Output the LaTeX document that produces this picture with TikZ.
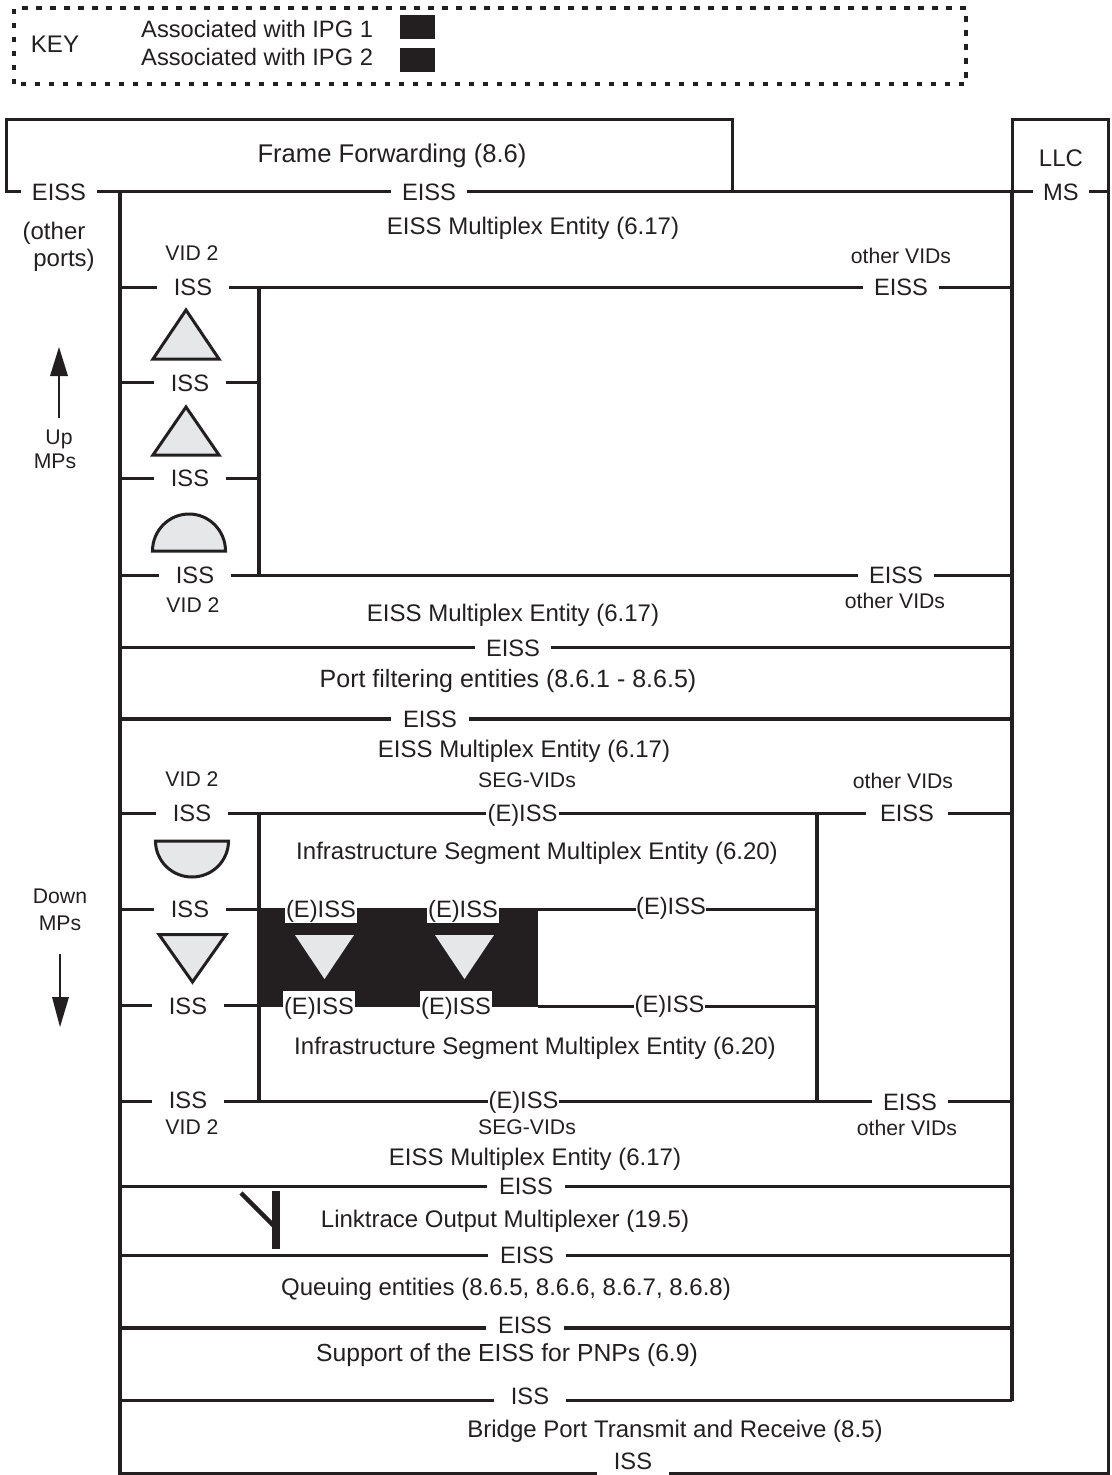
\documentclass[tikz,border=0pt]{standalone}
\usepackage{fontspec}
\setmainfont{Liberation Sans}
\definecolor{ink}{HTML}{231F20}
\definecolor{pale}{HTML}{E6E7E8}
\tikzset{
  lbl/.style={text=ink,font=\fontsize{23.7}{26}\selectfont,inner ysep=0pt,text height=17pt,text depth=0pt,inner xsep=1pt},
  isslbl/.style={lbl,inner xsep=17pt},
  eisslbl/.style={lbl,inner xsep=11pt},
  elbl/.style={lbl,inner xsep=0pt},
  small/.style={text=ink,font=\fontsize{21.2}{24}\selectfont,inner sep=0pt,text height=15.2pt,text depth=0pt},
  body/.style={text=ink,font=\fontsize{24}{26}\selectfont,inner sep=0pt,text height=17.2pt,text depth=0pt},
  ln/.style={draw=ink,line width=3pt},
  thk/.style={draw=ink,line width=3.8pt},
  sym/.style={draw=ink,fill=pale,line width=3pt,line join=miter},
  solidk/.style={fill=ink,draw=none},
  keybox/.style={draw=ink,line width=3.5pt,dash pattern=on 5.5pt off 8.5pt},
  thinar/.style={draw=ink,line width=1.6pt},
}
\begin{document}
\begin{tikzpicture}[x=1pt,y=-1pt]
\useasboundingbox (0,0) rectangle (1111,1475);
\coordinate (L) at (120,0);
\coordinate (R) at (1012,0);
\coordinate (M) at (259,0);
\coordinate (N) at (817,0);
\coordinate (O) at (1108,0);
% Key
\draw[keybox] (14,84) -- (14,8) -- (966,8) -- (966,84) -- cycle;
\node[body,anchor=center] (keyt) at (55,44) {KEY};
\node[body,anchor=west,font=\fontsize{23.7}{26}\selectfont] (k1) at (141,29) {Associated with IPG 1};
\node[body,anchor=west,font=\fontsize{23.7}{26}\selectfont] (k2) at (141,57) {Associated with IPG 2};
\fill[solidk] (400,15) rectangle (435,39);
\fill[solidk] (400,48) rectangle (435,72);
% black block
\fill[solidk] (258,908) rectangle (538,1006.5);
% top labels
\node[body,font=\fontsize{25.6}{28}\selectfont] (ff) at (392,154) {Frame Forwarding (8.6)};
\node[body] (llc) at (1061,158) {LLC};
\node[eisslbl] (e0) at (59,191.5) {EISS};
\node[eisslbl] (e1) at (429,191.5) {EISS};
\node[lbl,inner xsep=10pt] (ms) at (1061,191.5) {MS};
\node[body] (oth1) at (54,231) {(other};
\node[body] (oth2) at (64,258) {ports)};
% outer frames
\draw[ln] (e0.west) -- (6,191.5) -- (6,119) -- (732,119) -- (732,191);
\draw[ln] (e0.east) -- (L |- e0);
\draw[thk] (L |- e1) -- (e1.west);
\draw[thk] (e1.east) -- (ms.west);
\draw[ln] (ms.east) -- (O |- ms);
\draw[ln] (1012,191) -- (1012,119) -- (1108,119) -- (1108,1474.5);
\draw[thk] (120,191) -- (120,1475);
\draw[thk] (R |- 0,191) -- (R |- 0,1401);
% Upper block
\node[body] at (533,226) (m1) {EISS Multiplex Entity (6.17)};
\node[small] (v1) at (192,253) {VID 2};
\node[small] (o1) at (901,256) {other VIDs};
\node[isslbl] (a1) at (193,287) {ISS};
\node[eisslbl] (b1) at (901,287) {EISS};
\draw[ln] (L |- a1) -- (a1.west);
\draw[ln] (a1.east) -- (b1.west);
\draw[ln] (b1.east) -- (R |- b1);
\node[isslbl] (a2) at (190,382.5) {ISS};
\draw[thk] (L |- a2) -- (a2.west);
\draw[thk] (a2.east) -- (M |- a2);
\node[isslbl] (a3) at (190,478) {ISS};
\draw[ln] (L |- a3) -- (a3.west);
\draw[ln] (a3.east) -- (M |- a3);
\node[isslbl] (a4) at (195,575) {ISS};
\node[eisslbl] (b4) at (896,575) {EISS};
\draw[ln] (L |- a4) -- (a4.west);
\draw[ln] (a4.east) -- (b4.west);
\draw[ln] (b4.east) -- (R |- b4);
\draw[thk] (M |- a1) -- (M |- a4);
\node[small] (v2) at (193,605) {VID 2};
\node[small] (o2) at (895,601) {other VIDs};
\node[body] (m2) at (513,613) {EISS Multiplex Entity (6.17)};
% up symbols
\draw[sym] (153,359) -- (186,310) -- (219,359) -- cycle;
\draw[sym] (153,455) -- (186,407) -- (219,455) -- cycle;
\draw[sym] (152.5,551) arc[start angle=180,end angle=360,x radius=36.5,y radius=37] -- cycle;
% rows
\node[lbl,inner xsep=11pt] (r1) at (513,647.5) {EISS};
\draw[ln] (L |- r1) -- (r1.west);
\draw[ln] (r1.east) -- (R |- r1);
\node[body,font=\fontsize{25}{28}\selectfont] (pf) at (508,679) {Port filtering entities (8.6.1 - 8.6.5)};
\node[lbl,inner xsep=12pt] (r2) at (430,719) {EISS};
\draw[thk] (L |- r2) -- (r2.west);
\draw[thk] (r2.east) -- (R |- r2);
\node[body] (m3) at (524,749) {EISS Multiplex Entity (6.17)};
% Lower block
\node[small] (v3) at (192,779) {VID 2};
\node[small] (sv1) at (527,780) {SEG-VIDs};
\node[small] (o3) at (903,781) {other VIDs};
\node[isslbl] (c1) at (192,813) {ISS};
\node[elbl,inner xsep=1pt] (d1) at (522.5,813) {(E)ISS};
\node[lbl,inner xsep=14pt] (f1) at (907,813) {EISS};
\draw[ln] (L |- c1) -- (c1.west);
\draw[ln] (c1.east) -- (d1.west);
\draw[ln] (d1.east) -- (f1.west);
\draw[ln] (f1.east) -- (R |- f1);
\node[body] (i1) at (537,851) {Infrastructure Segment Multiplex Entity (6.20)};
\draw[sym] (155.5,841) arc[start angle=180,end angle=0,x radius=36.5,y radius=36] -- cycle;
\node[isslbl] (c2) at (190,909) {ISS};
\draw[ln] (L |- c2) -- (c2.west);
\draw[ln] (c2.east) -- (M |- c2);
\node[elbl] (d2) at (671,906) {(E)ISS};
\coordinate (p2) at (538,909);
\draw[ln] (p2) -- (d2.west |- p2);
\draw[ln] (d2.east |- p2) -- (N |- p2);
\draw[sym] (159,934.5) -- (226,934.5) -- (192.5,982) -- cycle;
\node[fill=white,minimum width=72pt,minimum height=23pt,inner sep=0pt] (w1) at (321,911.5) {};
\node[fill=white,minimum width=72pt,minimum height=23pt,inner sep=0pt] (w2) at (463,911.5) {};
\node[fill=white,minimum width=72pt,minimum height=18pt,inner sep=0pt] (w3) at (319,1000) {};
\node[fill=white,minimum width=72pt,minimum height=18pt,inner sep=0pt] (w4) at (456,1000) {};
\node[elbl] (g1) at (321,909) {(E)ISS};
\node[elbl] (g2) at (463,909) {(E)ISS};
\node[elbl] (g3) at (319,1006) {(E)ISS};
\node[elbl] (g4) at (456,1006) {(E)ISS};
\fill[pale] (295,935) -- (354,935) -- (324.5,979) -- cycle;
\fill[pale] (435,935) -- (494,935) -- (464.5,979) -- cycle;
\node[isslbl] (c3) at (188,1005.5) {ISS};
\draw[ln] (L |- c3) -- (c3.west);
\draw[ln] (c3.east) -- (M |- c3);
\node[elbl] (d3) at (669.5,1004) {(E)ISS};
\coordinate (p3) at (538,1006);
\draw[ln] (p3) -- (d3.west |- p3);
\draw[ln] (d3.east |- p3) -- (N |- p3);
\node[body] (i2) at (535,1046) {Infrastructure Segment Multiplex Entity (6.20)};
\coordinate (rw) at (0,1101.5);
\node[isslbl] (c4) at (188,1100) {ISS};
\node[elbl] (d4) at (523.5,1100) {(E)ISS};
\node[lbl,inner xsep=11pt] (f4) at (910,1102) {EISS};
\draw[thk] (L |- rw) -- (c4.west |- rw);
\draw[thk] (c4.east |- rw) -- (d4.west |- rw);
\draw[thk] (d4.east |- rw) -- (f4.west |- rw);
\draw[thk] (f4.east |- rw) -- (R |- rw);
\draw[thk] (M |- c1) -- (M |- rw);
\draw[thk] (N |- f1) -- (N |- rw);
\node[small] (v4) at (192,1127) {VID 2};
\node[small] (sv2) at (527,1127) {SEG-VIDs};
\node[small] (o4) at (907,1128) {other VIDs};
\node[body] (m4) at (535,1157) {EISS Multiplex Entity (6.17)};
\node[lbl,inner xsep=12pt] (s1) at (526,1186) {EISS};
\draw[ln] (L |- s1) -- (s1.west);
\draw[ln] (s1.east) -- (R |- s1);
\node[body] (lt) at (505,1219) {Linktrace Output Multiplexer (19.5)};
\draw[draw=ink,line width=8pt] (276,1191) -- (276,1249);
\draw[draw=ink,line width=4.5pt] (241,1193) -- (276,1228);
\node[lbl,inner xsep=12pt] (s2) at (527,1255) {EISS};
\draw[ln] (L |- s2) -- (s2.west);
\draw[ln] (s2.east) -- (R |- s2);
\node[body] (qu) at (506,1287) {Queuing entities (8.6.5, 8.6.6, 8.6.7, 8.6.8)};
\node[lbl,inner xsep=12pt] (s3) at (525,1325) {EISS};
\coordinate (rs3) at (0,1328);
\draw[thk] (L |- rs3) -- (s3.west |- rs3);
\draw[thk] (s3.east |- rs3) -- (R |- rs3);
\node[body,font=\fontsize{24.7}{28}\selectfont] (su) at (507,1353) {Support of the EISS for PNPs (6.9)};
\node[lbl,inner xsep=17pt] (s4) at (530,1396) {ISS};
\coordinate (rs4) at (0,1400);
\draw[ln] (L |- rs4) -- (s4.west |- rs4);
\draw[ln] (s4.east |- rs4) -- (R |- rs4);
\node[body] (br) at (675,1429) {Bridge Port Transmit and Receive (8.5)};
\node[lbl,inner xsep=17pt] (s5) at (633,1461) {ISS};
\coordinate (rs5) at (0,1473.5);
\draw[ln] (L |- rs5) -- (s5.west |- rs5);
\draw[ln] (s5.east |- rs5) -- (O |- rs5);
% arrows
\coordinate (ua) at (59,418);
\coordinate (ub) at (59,376);
\draw[thinar] (ua) -- (ub);
\fill[solidk] (50,376) -- (59,347) -- (68,376) -- cycle;
\node[small] (up1) at (59,437) {Up};
\node[small] (up2) at (55,461) {MPs};
\node[small] (dn1) at (60,896) {Down};
\node[small] (dn2) at (60,923) {MPs};
\coordinate (da) at (60,954);
\coordinate (db) at (60,997);
\draw[thinar] (da) -- (db);
\fill[solidk] (52,997) -- (60,1027) -- (69,997) -- cycle;
\end{tikzpicture}
\end{document}
